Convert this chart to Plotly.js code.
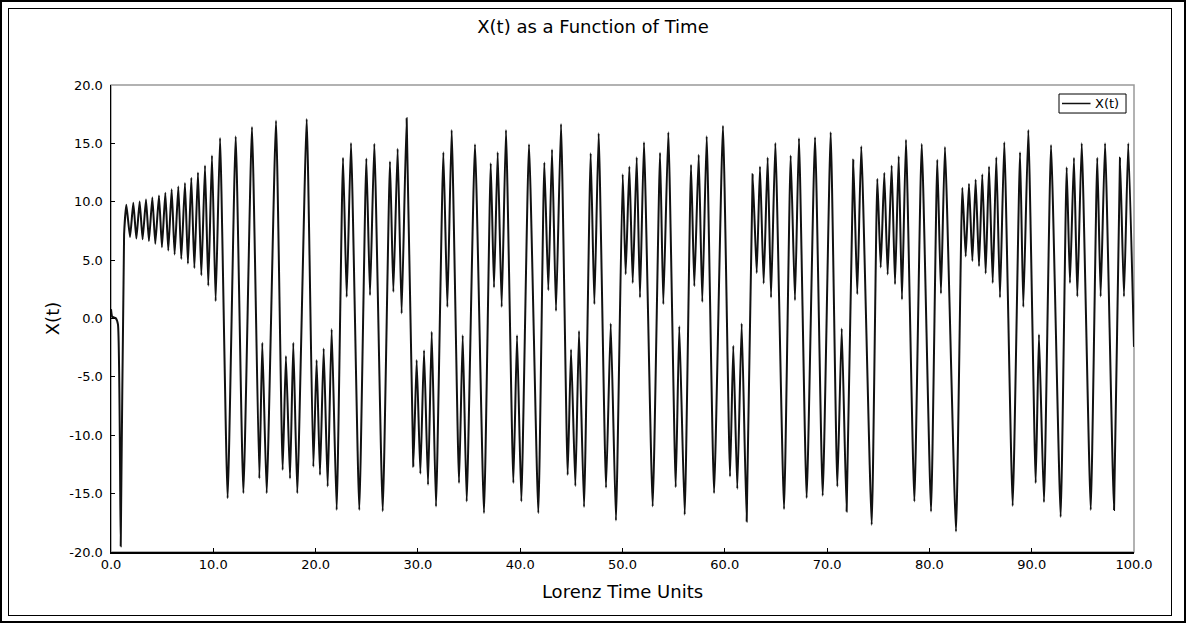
<!DOCTYPE html>
<html>
<head>
<meta charset="utf-8">
<script src="https://cdn.plot.ly/plotly-3.0.1.min.js"></script>
<style>
html,body{margin:0;padding:0;background:#fff;overflow:hidden;}
#chart{position:absolute;left:0;top:0;width:1186px;height:623px;}
#outer{position:absolute;left:0;top:0;width:1186px;height:623px;box-sizing:border-box;border:2px solid #000;pointer-events:none;}
#inner{position:absolute;left:8px;top:8px;width:1164px;height:608px;box-sizing:border-box;border:1px solid #000;pointer-events:none;}
</style>
</head>
<body>
<div id="chart"></div>
<div id="outer"></div>
<div id="inner"></div>
<script>
// Lorenz time (x axis)
const timeUnits = [
0,0.12,0.45,0.68,0.95,1.28,1.5,1.86,2.18,2.48,2.80,3.09,3.42,3.71,4.04,4.33,4.69,4.98,5.31,5.60,5.93,6.22,6.58,6.87,7.23,7.52,7.85,8.15,8.50,8.83,9.19,9.51,9.87,10.23,10.66,
11.40,12.19,12.94,13.78,14.50,14.79,15.22,16.13,16.78,17.10,17.50,17.82,18.21,19.13,19.78,20.10,20.43,20.79,21.18,21.57,22.06,22.68,23.04,23.46,24.27,24.96,25.32,25.74,26.56,27.27,27.60,28.02,28.41,28.90,
29.55,29.88,30.24,30.60,30.99,31.35,31.77,32.49,32.88,33.30,34.02,34.38,34.77,35.58,36.46,37.12,37.44,37.80,38.19,38.61,39.33,39.69,40.11,40.86,41.77,42.36,42.75,43.11,43.50,43.99,
44.64,44.97,45.39,45.75,46.24,46.89,47.25,47.67,48.39,48.85,49.36,50.02,50.31,50.67,51.00,51.39,51.71,52.10,52.95,53.67,53.99,54.48,55.20,55.55,56.08,56.70,57.02,57.45,57.80,58.23,58.95,59.82,
60.51,60.83,61.22,61.65,62.14,62.72,63.12,63.44,63.80,64.19,64.52,64.94,65.79,66.44,66.86,67.25,68.00,68.82,69.57,70.35,71.00,71.43,71.91,72.56,72.95,73.34,74.36,74.91,75.24,75.59,75.92,76.31,76.64,77.00,77.32,77.71,
78.53,79.25,80.16,80.77,81.13,81.52,82.60,83.22,83.55,83.87,84.20,84.52,84.85,85.17,85.50,85.83,86.19,86.54,86.90,87.32,88.14,88.86,89.18,89.67,90.39,90.71,91.20,91.89,92.83,93.42,93.74,94.13,94.46,94.89,
95.77,96.41,96.74,97.17,98.05,98.63,99.02,99.44,100.0
];
// X(t) values
const xValues = [
0.8,0.15,0.05,-0.5,-19.5,7.2,9.74,6.98,9.91,6.85,10.03,6.78,10.2,6.64,10.37,6.4,10.54,6.1,10.77,5.82,11.06,5.48,11.3,5.1,11.6,4.7,12.05,4.3,12.5,3.7,13.1,2.8,13.96,1.48,15.47,
-15.4,15.6,-14.96,16.4,-13.7,-2.08,-14.96,16.95,-12.97,-3.22,-13.7,-2.08,-14.96,17.09,-12.7,-3.56,-13.4,-2.57,-14.4,-0.91,-16.4,13.76,1.85,15.04,-16.4,13.7,1.99,14.96,-16.5,13.44,2.28,14.53,0.43,17.15,
-12.68,-3.56,-13.3,-2.71,-14.25,-1.14,-16.1,14.24,0.99,16.15,-14.1,-1.43,-15.67,14.93,-16.67,13.3,2.65,14.24,0.99,16.15,-14.1,-1.43,-15.67,14.93,-16.67,13.37,2.42,14.47,0.65,16.67,
-13.4,-2.65,-14.35,-1.06,-16.15,14.16,1.22,15.87,-14.5,-0.43,-17.3,12.36,3.79,13.02,3.04,13.81,1.79,15.1,-16.1,14.19,1.22,15.95,-14.45,-0.66,-16.8,13.16,2.76,14.02,1.42,15.61,-14.96,16.52,
-13.54,-2.34,-14.59,-0.43,-17.38,12.36,3.9,13.02,2.99,13.78,1.79,15.04,-16.33,13.96,1.56,15.44,-15.38,15.52,-15.18,15.95,-14.39,-0.85,-16.53,13.59,2.08,14.75,-17.67,11.97,4.36,12.48,3.76,13.1,2.93,13.9,1.62,15.32,
-15.67,14.96,-16.53,13.59,2.14,14.7,-18.24,11.2,5.32,11.54,4.92,11.9,4.47,12.36,3.85,13.02,3.04,13.81,1.79,15.1,-16.05,14.24,0.99,16.15,-14.1,-1.37,-15.73,14.87,-17.0,12.96,3.04,13.76,1.88,15.02,
-16.4,13.76,1.88,15.02,-16.4,13.76,1.88,15.02,-2.43
];
const seriesName = "X(t)";
const chartTitle = "X(t) as a Function of Time";
const xTitle = "Lorenz Time Units";
const yTitle = "X(t)";
const xTickVals = [0,10,20,30,40,50,60,70,80,90,100];
const xTickText = ["0.0","10.0","20.0","30.0","40.0","50.0","60.0","70.0","80.0","90.0","100.0"];
const yTickVals = [-20,-15,-10,-5,0,5,10,15,20];
const yTickText = ["-20.0","-15.0","-10.0","-5.0","0.0","5.0","10.0","15.0","20.0"];

const FONT = "DejaVu Sans, Verdana, sans-serif";

const trace = {
  x: timeUnits, y: xValues, type: "scatter", mode: "lines", name: seriesName,
  line: {color: "#111", width: 2, shape: "spline", smoothing: 0.45},
  showlegend: false
};

const layout = {
  width: 1186, height: 623,
  margin: {l: 111, r: 52, t: 85, b: 71, pad: 0},
  paper_bgcolor: "#fff", plot_bgcolor: "#fff",
  font: {family: FONT, color: "#000", size: 13},
  title: {text: chartTitle, font: {family: FONT, size: 18, color: "#000"},
          x: 0.5, xref: "container", xanchor: "center", y: 1 - 27/623, yref: "container", yanchor: "middle"},
  xaxis: {
    range: [0, 100], tickmode: "array", tickvals: xTickVals, ticktext: xTickText,
    ticks: "inside", ticklen: 4, tickcolor: "#000",
    showline: true, linecolor: "#000", linewidth: 1.5, showgrid: false, zeroline: false,
    tickfont: {family: FONT, size: 13, color: "#000"},
    title: {text: xTitle, font: {family: FONT, size: 18, color: "#000"}, standoff: 14}
  },
  yaxis: {
    range: [-20, 20], tickmode: "array", tickvals: yTickVals, ticktext: yTickText,
    ticks: "inside", ticklen: 4, tickcolor: "#000", ticklabelstandoff: 4,
    showline: true, linecolor: "#000", linewidth: 1.5, showgrid: false, zeroline: false,
    tickfont: {family: FONT, size: 13, color: "#000"},
    title: {text: yTitle, font: {family: FONT, size: 18, color: "#000"}, standoff: 5}
  },
  shapes: [
    {type: "rect", xref: "paper", yref: "paper", x0: 0, x1: 1, y0: 0, y1: 1,
     line: {color: "#999", width: 1.5}, layer: "below"},
    // legend box
    {type: "rect", xref: "paper", yref: "paper", x0: 0.9267, x1: 0.9922, y0: 0.940, y1: 0.9807,
     line: {color: "#000", width: 1}, fillcolor: "#fff", layer: "above"},
    // legend line sample
    {type: "line", xref: "paper", yref: "paper", x0: 0.9296, x1: 0.9575, y0: 0.9604, y1: 0.9604,
     line: {color: "#111", width: 1.5}, layer: "above"}
  ],
  annotations: [
    {text: seriesName, xref: "paper", yref: "paper", x: 0.9595, y: 0.9604, xanchor: "left", yanchor: "middle",
     showarrow: false, font: {family: FONT, size: 13, color: "#000"}}
  ]
};

Plotly.newPlot("chart", [trace], layout, {displayModeBar: false, staticPlot: true});
</script>
</body>
</html>
